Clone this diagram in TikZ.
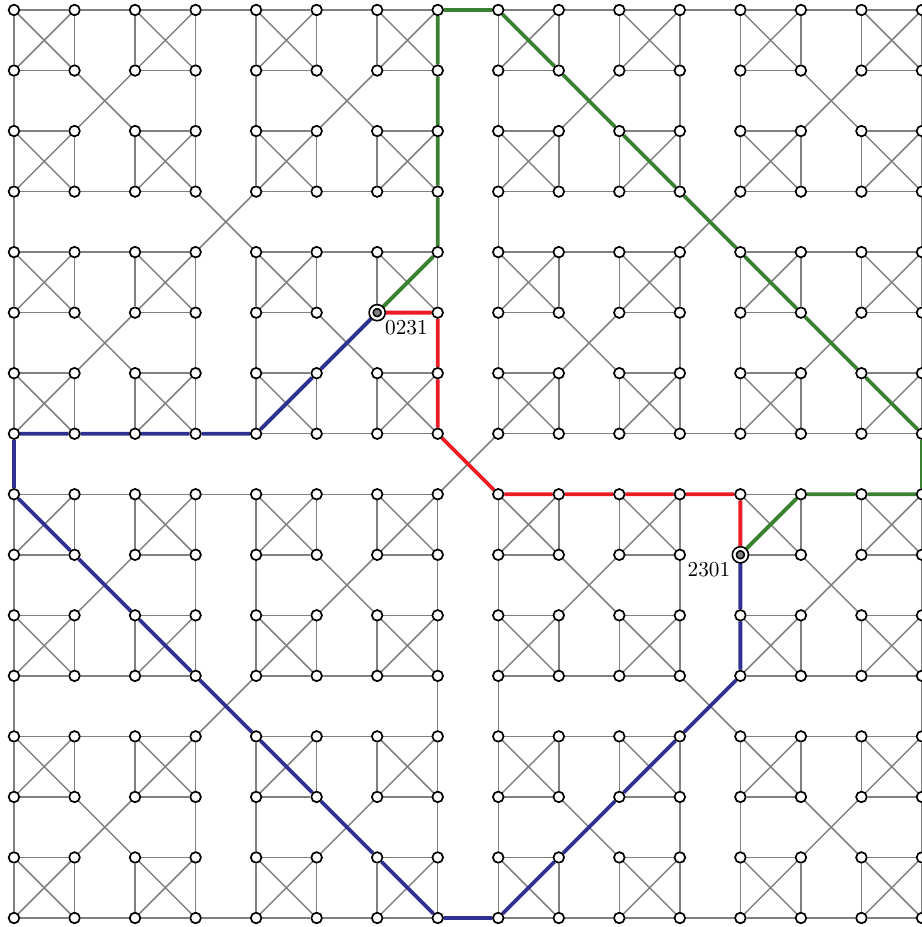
\documentclass[tikz,border=0pt]{standalone}
\usepackage{tikz}
\usetikzlibrary{positioning, backgrounds}
\definecolor{myred}{HTML}{ED1C24}
\definecolor{mygreen}{HTML}{3B8132}
\definecolor{myblue}{HTML}{2E3192}
\tikzset{
	vertex/.style={
			circle,
			draw=black,
			line width=0.8pt,
			fill=white,
			minimum size=5pt,
			inner sep=0pt
		},
	endvertex/.style={
			vertex,
			fill=gray,
			double=white,
			double distance=1.1pt,
			minimum size=5.6pt
		},
	link/.style={
			draw=gray,
			line width=0.7pt
		},
	route/.style={
			line width=1.8pt
		},
	tag/.style={
			inner sep=1.5pt,
			font=\normalsize
		}
}
\def\pairs{0/1,0/2,0/3,1/2,1/3,2/3}

\begin{document}
\begin{tikzpicture}[x=1cm, y=-1cm]
\useasboundingbox (-0.231,-0.165) rectangle (15,15.149);

\foreach \a in {0,...,3}
\foreach \b in {0,...,3}
\foreach \c in {0,...,3}
\foreach \d in {0,...,3}{
	\pgfmathtruncatemacro\col{8*{0,0,1,1}[\a]+4*{0,0,1,1}[\b]+2*{0,0,1,1}[\c]+{0,0,1,1}[\d]}
	\pgfmathtruncatemacro\row{8*{0,1,1,0}[\a]+4*{0,1,1,0}[\b]+2*{0,1,1,0}[\c]+{0,1,1,0}[\d]}
	\node[vertex] (n\a\b\c\d) at (\col,\row) {};
}
\node[endvertex] at (n0231) {};
\node[endvertex] at (n2301) {};

\begin{scope}[on background layer]
\foreach \a in {0,...,3}
\foreach \b in {0,...,3}{
	\foreach \c in {0,...,3}
	\foreach \i/\j in \pairs
		\draw[link] (n\a\b\c\i) -- (n\a\b\c\j);
	\foreach \i/\j in \pairs
		\draw[link] (n\a\b\i\j) -- (n\a\b\j\i);
}
\foreach \a in {0,...,3}
\foreach \i/\j in \pairs
	\draw[link] (n\a\i\j\j) -- (n\a\j\i\i);
\foreach \i/\j in \pairs
	\draw[link] (n\i\j\j\j) -- (n\j\i\i\i);

\draw[route, myred] (n0231) -- (n0232) -- (n0223) -- (n0222) -- (n2000)
	-- (n2003) -- (n2030) -- (n2033) -- (n2300) -- (n2301);
\draw[route, mygreen] (n0231) -- (n0233) -- (n0322) -- (n0323) -- (n0332)
	-- (n0333) -- (n3000) -- (n3002) -- (n3020) -- (n3022) -- (n3200)
	-- (n3202) -- (n3220) -- (n3222) -- (n2333) -- (n2330) -- (n2303) -- (n2301);
\draw[route, myblue] (n0231) -- (n0213) -- (n0211) -- (n0122) -- (n0121)
	-- (n0112) -- (n0111) -- (n1000) -- (n1002) -- (n1020) -- (n1022)
	-- (n1200) -- (n1202) -- (n1220) -- (n1222) -- (n2111) -- (n2113)
	-- (n2131) -- (n2133) -- (n2311) -- (n2310) -- (n2301);
\end{scope}

\node[tag, below right=0pt of n0231] (t0231) {0231};
\node[tag, below left=0pt and 1pt of n2301] (t2301) {2301};

\end{tikzpicture}
\end{document}
